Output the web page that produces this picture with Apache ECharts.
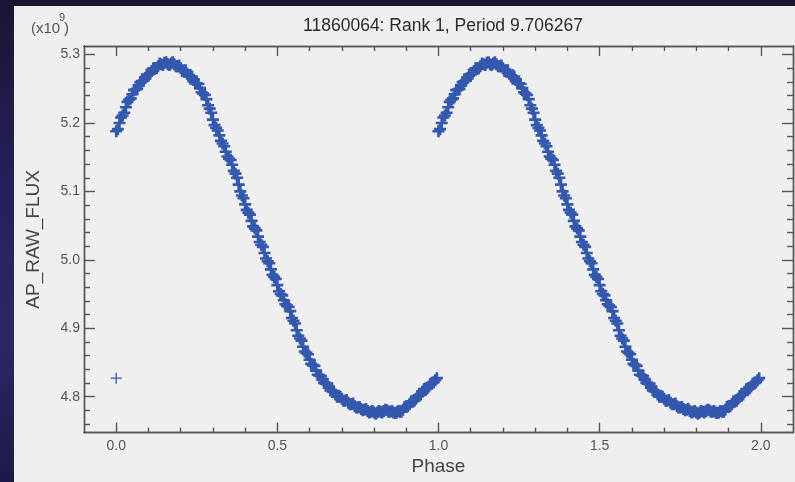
<!DOCTYPE html>
<html>
<head>
<meta charset="utf-8">
<script src="https://cdn.jsdelivr.net/npm/echarts@6/dist/echarts.min.js"></script>
<style>
  html, body { margin:0; padding:0; width:795px; height:482px; overflow:hidden; }
  body { background: linear-gradient(180deg, #1b1533 0%, #262262 45%, #2a2866 70%, #1d1a48 100%); position:relative; }
  #panel { position:absolute; left:14px; top:6px; width:781px; height:476px; background:#efefef; }
  #chart { position:absolute; left:0; top:0; width:795px; height:482px; }
</style>
</head>
<body>
<div id="panel"></div>
<div id="chart"></div>
<script>
// ---- data (flux in units of 1e9) ----
// readings at phase 0.00, 0.01, ... 0.99
const phase = [0.00,0.01,0.02,0.03,0.04,0.05,0.06,0.07,0.08,0.09,
               0.10,0.11,0.12,0.13,0.14,0.15,0.16,0.17,0.18,0.19,
               0.20,0.21,0.22,0.23,0.24,0.25,0.26,0.27,0.28,0.29,
               0.30,0.31,0.32,0.33,0.34,0.35,0.36,0.37,0.38,0.39,
               0.40,0.41,0.42,0.43,0.44,0.45,0.46,0.47,0.48,0.49,
               0.50,0.51,0.52,0.53,0.54,0.55,0.56,0.57,0.58,0.59,
               0.60,0.61,0.62,0.63,0.64,0.65,0.66,0.67,0.68,0.69,
               0.70,0.71,0.72,0.73,0.74,0.75,0.76,0.77,0.78,0.79,
               0.80,0.81,0.82,0.83,0.84,0.85,0.86,0.87,0.88,0.89,
               0.90,0.91,0.92,0.93,0.94,0.95,0.96,0.97,0.98,0.99];
const flux = [5.188,5.200,5.211,5.223,5.234,5.242,5.249,5.255,5.261,5.266,
              5.271,5.276,5.280,5.283,5.286,5.288,5.286,5.287,5.286,5.283,
              5.280,5.276,5.272,5.268,5.263,5.258,5.251,5.243,5.235,5.221,
              5.205,5.193,5.182,5.170,5.158,5.148,5.139,5.126,5.110,5.094,
              5.081,5.069,5.057,5.046,5.034,5.022,5.010,4.998,4.986,4.975,
              4.963,4.950,4.941,4.933,4.925,4.911,4.897,4.885,4.873,4.864,
              4.854,4.846,4.838,4.831,4.825,4.819,4.814,4.808,4.803,4.800,
              4.797,4.794,4.791,4.789,4.786,4.784,4.782,4.781,4.779,4.778,
              4.777,4.777,4.778,4.779,4.780,4.778,4.777,4.777,4.778,4.781,
              4.785,4.789,4.793,4.797,4.802,4.807,4.811,4.815,4.820,4.824];
// readings at phase 0.005, 0.015, ... 0.995
const phaseHalf = [0.005,0.015,0.025,0.035,0.045,0.055,0.065,0.075,0.085,0.095,
                   0.105,0.115,0.125,0.135,0.145,0.155,0.165,0.175,0.185,0.195,
                   0.205,0.215,0.225,0.235,0.245,0.255,0.265,0.275,0.285,0.295,
                   0.305,0.315,0.325,0.335,0.345,0.355,0.365,0.375,0.385,0.395,
                   0.405,0.415,0.425,0.435,0.445,0.455,0.465,0.475,0.485,0.495,
                   0.505,0.515,0.525,0.535,0.545,0.555,0.565,0.575,0.585,0.595,
                   0.605,0.615,0.625,0.635,0.645,0.655,0.665,0.675,0.685,0.695,
                   0.705,0.715,0.725,0.735,0.745,0.755,0.765,0.775,0.785,0.795,
                   0.805,0.815,0.825,0.835,0.845,0.855,0.865,0.875,0.885,0.895,
                   0.905,0.915,0.925,0.935,0.945,0.955,0.965,0.975,0.985,0.995];
const fluxHalf = [5.191,5.208,5.215,5.231,5.236,5.248,5.250,5.260,5.262,5.271,
                  5.272,5.280,5.280,5.287,5.285,5.289,5.285,5.289,5.283,5.284,
                  5.276,5.277,5.268,5.268,5.258,5.257,5.245,5.241,5.226,5.215,
                  5.197,5.189,5.174,5.166,5.151,5.146,5.130,5.120,5.100,5.090,
                  5.073,5.066,5.049,5.043,5.026,5.019,5.002,4.995,4.978,4.972,
                  4.954,4.948,4.935,4.931,4.915,4.907,4.889,4.882,4.866,4.862,
                  4.848,4.845,4.832,4.830,4.820,4.819,4.809,4.808,4.800,4.800,
                  4.794,4.795,4.789,4.790,4.784,4.785,4.780,4.782,4.777,4.779,
                  4.775,4.779,4.777,4.781,4.778,4.779,4.776,4.779,4.778,4.785,
                  4.786,4.793,4.794,4.801,4.803,4.811,4.812,4.819,4.821,4.827];
const outlierPhase = [0.0];
const outlierFlux = [4.827];
const cycleOffsets = [0, 1];

const xMajorTicks = [0.0, 0.5, 1.0, 1.5, 2.0];
const xMinorTicks = [0.1,0.2,0.3,0.4,0.6,0.7,0.8,0.9,1.1,1.2,1.3,1.4,1.6,1.7,1.8,1.9];
const yMajorTicks = [4.8, 4.9, 5.0, 5.1, 5.2, 5.3];
const yMinorTicks = [4.76,4.78,4.82,4.84,4.86,4.88,4.92,4.94,4.96,4.98,
                     5.02,5.04,5.06,5.08,5.12,5.14,5.16,5.18,5.22,5.24,5.26,5.28];

const titleText = '11860064: Rank 1, Period 9.706267';
const xName = 'Phase';
const yName = 'AP_RAW_FLUX';

// ---- build ----
const pts = [];
cycleOffsets.forEach(off => {
  phase.forEach((p, i) => pts.push([p + off, flux[i]]));
  phaseHalf.forEach((p, i) => pts.push([p + off, fluxHalf[i]]));
});
const outPts = outlierPhase.map((p, i) => [p, outlierFlux[i]]);

const X_MIN = -0.1, X_MAX = 2.1, Y_MIN = 4.7473, Y_MAX = 5.3126;
const axisColor = '#555';
const lineStyle = { color: axisColor, width: 1.4 };
const FONT = 'Liberation Sans, Arial, sans-serif';
const labelStyle = { color: '#555', fontSize: 14, fontFamily: FONT };

function xAx(pos, ticks, len, showLabel, extra) {
  return Object.assign({
    type: 'value', position: pos, min: X_MIN, max: X_MAX,
    axisLine: { show: true, onZero: false, lineStyle },
    axisTick: { show: true, inside: true, length: len, customValues: ticks, lineStyle },
    axisLabel: showLabel ? Object.assign({ customValues: ticks, margin: 6, formatter: v => v.toFixed(1) }, labelStyle) : { show: false },
    splitLine: { show: false }
  }, extra || {});
}
function yAx(pos, ticks, len, showLabel, extra) {
  return Object.assign({
    type: 'value', position: pos, min: Y_MIN, max: Y_MAX,
    axisLine: { show: true, onZero: false, lineStyle },
    axisTick: { show: true, inside: true, length: len, customValues: ticks, lineStyle },
    axisLabel: showLabel ? Object.assign({ customValues: ticks, margin: 4, formatter: v => v.toFixed(1) }, labelStyle) : { show: false },
    splitLine: { show: false }
  }, extra || {});
}

const nameStyle = { color: '#444', fontSize: 19, fontFamily: FONT };
const crossPath = 'path://M0,3.9L10,3.9L10,6.1L0,6.1Z M3.9,0L6.1,0L6.1,10L3.9,10Z';
const crossThin = 'path://M0,4.4L10,4.4L10,5.6L0,5.6Z M4.4,0L5.6,0L5.6,10L4.4,10Z';

const chart = echarts.init(document.getElementById('chart'), null, { renderer: 'canvas' });
chart.setOption({
  animation: false,
  backgroundColor: 'transparent',
  title: {
    text: titleText, left: 438, top: 12, textAlign: 'center',
    textStyle: { color: '#2b2b2b', fontSize: 17.5, fontWeight: 'normal', fontFamily: FONT }
  },
  grid: { left: 84, right: 2, top: 46, bottom: 49.3, containLabel: false },
  xAxis: [
    xAx('bottom', xMajorTicks, 10, true, { name: xName, nameLocation: 'middle', nameGap: 24, nameTextStyle: nameStyle }),
    xAx('top', xMajorTicks, 10, false),
    xAx('bottom', xMinorTicks, 5, false),
    xAx('top', xMinorTicks, 5, false)
  ],
  yAxis: [
    yAx('left', yMajorTicks, 11, true, { name: yName, nameLocation: 'middle', nameGap: 41, nameTextStyle: nameStyle }),
    yAx('right', yMajorTicks, 11, false),
    yAx('left', yMinorTicks, 6, false),
    yAx('right', yMinorTicks, 6, false)
  ],
  graphic: [
    { type: 'text', left: 31, top: 21, style: { text: '(x10', fill: '#555', fontSize: 15, fontFamily: FONT } },
    { type: 'text', left: 59, top: 12, style: { text: '9', fill: '#555', fontSize: 11, fontFamily: FONT } },
    { type: 'text', left: 64, top: 21, style: { text: ')', fill: '#555', fontSize: 15, fontFamily: FONT } }
  ],
  series: [
    {
      type: 'scatter', xAxisIndex: 0, yAxisIndex: 0, data: pts,
      symbol: crossPath, symbolSize: 12,
      itemStyle: { color: '#3458ae', opacity: 1 }, silent: true, large: false
    },
    {
      type: 'scatter', xAxisIndex: 0, yAxisIndex: 0, data: outPts,
      symbol: crossThin, symbolSize: 11,
      itemStyle: { color: '#3458ae', opacity: 1 }, silent: true
    }
  ]
});
</script>
</body>
</html>
